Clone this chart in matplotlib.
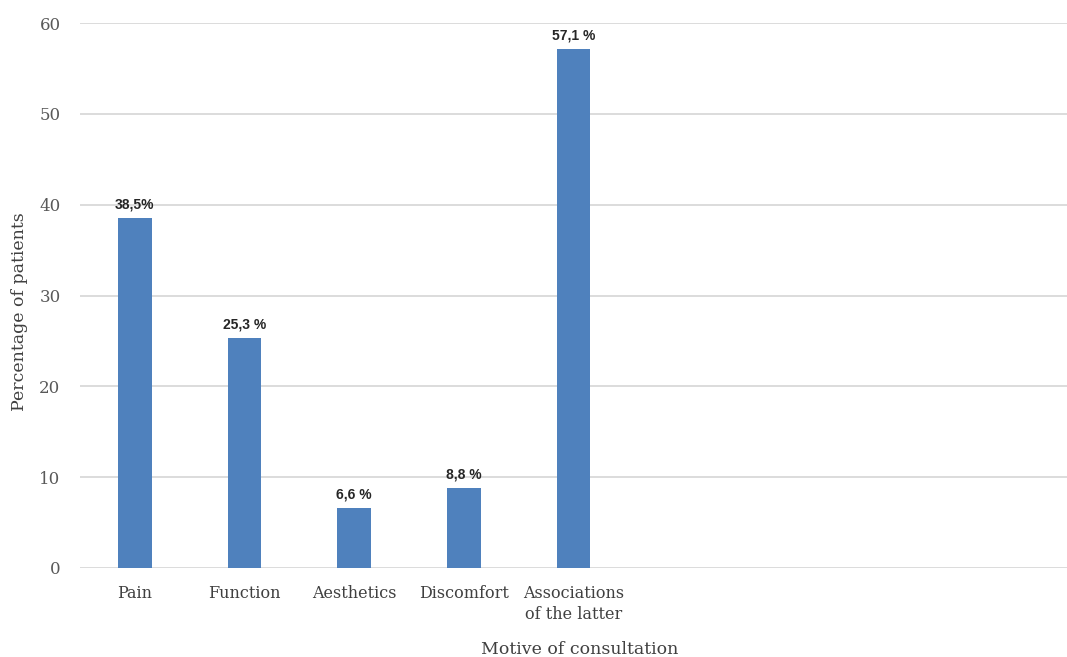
import matplotlib.pyplot as plt

# motive of consultation, percentage of patients
categories = ["Pain", "Function", "Aesthetics", "Discomfort",
              "Associations\nof the latter", "", "", "", ""]
values = [38.5, 25.3, 6.6, 8.8, 57.1]
value_labels = ["38,5%", "25,3 %", "6,6 %", "8,8 %", "57,1 %"]
y_ticks = [0, 10, 20, 30, 40, 50, 60]

_BAR = "#4F81BD"
_GRID = "#D9D9D9"
_TICK = "#595959"
_SERIF = ["DejaVu Serif"]
_LABEL_FONT = ["Liberation Sans Narrow", "Liberation Sans", "DejaVu Sans"]

fig = plt.figure(figsize=(10.67, 6.57), dpi=100)
ax = fig.add_axes([80 / 1067, 1 - 568 / 657, 1 - 80 / 1067, (568 - 23) / 657])

x = list(range(len(categories)))
ax.bar(x[:len(values)], values, width=0.31, color=_BAR, zorder=3)

for xi, v, lab in zip(x, values, value_labels):
    ax.annotate(lab, (xi, v), xytext=(0, 5), textcoords="offset points",
                ha="center", va="bottom", fontsize=10, fontweight="bold",
                color="#262626", family=_LABEL_FONT)

ax.set_xlim(-0.5, len(categories) - 0.5)
ax.set_ylim(0, 60)
ax.set_yticks(y_ticks)
ax.yaxis.grid(True, color=_GRID, linewidth=1.3, zorder=0)
ax.set_axisbelow(True)
for sp in ax.spines.values():
    sp.set_visible(False)
ax.tick_params(axis="both", length=0, colors=_TICK, labelsize=12)
ax.tick_params(axis="y", pad=14)
ax.tick_params(axis="x", pad=12)
ax.set_xticks(x)
ax.set_xticklabels(categories, family=_SERIF, color="#404040",
                   fontsize=11.5, linespacing=1.35)
for t in ax.get_yticklabels():
    t.set_family(_SERIF)

ax.set_ylabel("Percentage of patients", family=_SERIF, fontsize=12.5,
              color="#404040")
ax.yaxis.set_label_coords(-0.053, 0.47)
fig.text(580 / 1067, 1 - 649 / 657, "Motive of consultation", family=_SERIF,
         fontsize=12.5, color="#404040", ha="center", va="center")

fig.savefig("out.png", dpi=100, facecolor="white")
